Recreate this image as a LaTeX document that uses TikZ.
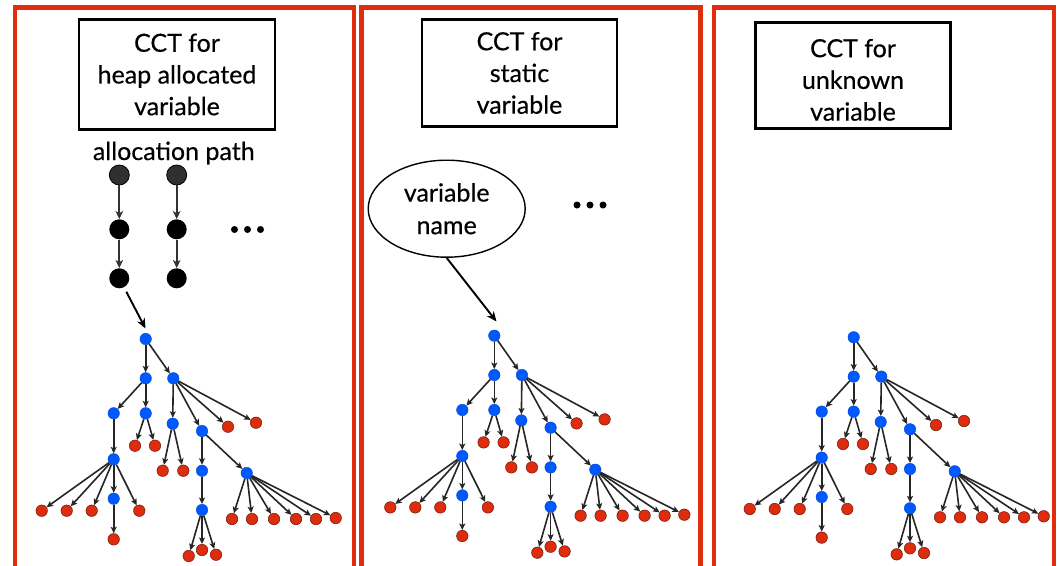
\documentclass[tikz,border=0pt]{standalone}
\usepackage{fontspec}
\setmainfont{Lato}[FakeBold=0.4]
\usetikzlibrary{arrows.meta,shapes.geometric}
\definecolor{panelred}{RGB}{226,44,14}
\definecolor{nblue}{RGB}{0,88,255}
\definecolor{nred}{RGB}{222,44,14}
\definecolor{pgrey}{RGB}{48,48,48}
\tikzset{
  panel/.style={draw=panelred,line width=4.5pt},
  titlebox/.style={draw=black,line width=2.2pt,inner sep=0pt,align=center,
    font=\fontsize{25}{31.7}\selectfont},
  txt/.style={inner sep=0pt,font=\fontsize{25}{31.7}\selectfont},
  bn/.style={circle,fill=nblue,draw=nblue!80!black,line width=0.4pt,minimum size=11.5pt,inner sep=0pt},
  rn/.style={circle,fill=nred,draw=nred!50!black,line width=0.5pt,minimum size=11.5pt,inner sep=0pt},
  pn/.style={circle,fill=black,minimum size=20pt,inner sep=0pt},
  pnt/.style={circle,fill=pgrey,draw=black,line width=0.8pt,minimum size=20pt,inner sep=0pt},
  dotn/.style={circle,fill=black,minimum size=7pt,inner sep=0pt},
  ar/.style={draw=black!85,line width=1.6pt,-{Stealth[length=6.5pt,width=6pt,inset=1.5pt]}},
  par/.style={draw=black!80,line width=2pt,-{Stealth[length=8pt,width=7.5pt,inset=2pt]}},
  big/.style={draw=black,line width=1.9pt,-{Stealth[length=10pt,width=8.5pt]}}
}
\newcommand{\cctree}[3]{%
\begin{scope}[shift={(#2,#3)}]
  \node[bn] (#1r)   at (145.7,339) {};
  \node[bn] (#1a)   at (145.7,378.3) {};
  \node[bn] (#1b)   at (173.3,378.3) {};
  \node[bn] (#1a1)  at (113.7,413.3) {};
  \node[bn] (#1a2)  at (145.7,413.3) {};
  \node[rn] (#1a2x) at (135,445.7) {};
  \node[rn] (#1a2y) at (155,445.7) {};
  \node[bn] (#1a1a) at (113.7,459.3) {};
  \node[rn] (#1l1)  at (41.7,510.7) {};
  \node[rn] (#1l2)  at (66.7,510.7) {};
  \node[rn] (#1l3)  at (91.7,510.7) {};
  \node[bn] (#1l4)  at (113.7,498.7) {};
  \node[rn] (#1l5)  at (139.3,510.7) {};
  \node[rn] (#1l4a) at (113.7,539.3) {};
  \node[bn] (#1b1)  at (172.7,423.7) {};
  \node[bn] (#1b2)  at (202,431) {};
  \node[rn] (#1b3)  at (228,426.7) {};
  \node[rn] (#1b4)  at (256,422.7) {};
  \node[rn] (#1b1x) at (162.7,470.7) {};
  \node[rn] (#1b1y) at (183.3,470.7) {};
  \node[bn] (#1c1)  at (202,470.7) {};
  \node[bn] (#1c2)  at (246.7,473) {};
  \node[bn] (#1c1a) at (202,510) {};
  \node[rn] (#1d1)  at (188.7,556) {};
  \node[rn] (#1d2)  at (202,550) {};
  \node[rn] (#1d3)  at (216,554.7) {};
  \node[rn] (#1e1)  at (232,519) {};
  \node[rn] (#1e2)  at (252,519) {};
  \node[rn] (#1e3)  at (274,519) {};
  \node[rn] (#1e4)  at (296,519) {};
  \node[rn] (#1e5)  at (316,519) {};
  \node[rn] (#1e6)  at (335.7,518) {};
  \foreach \s/\t in {r/a,r/b,a/a1,a/a2,a2/a2x,a2/a2y,a1/a1a,a1a/l1,a1a/l2,a1a/l3,a1a/l4,a1a/l5,l4/l4a,
     b/b1,b/b2,b/b3,b/b4,b1/b1x,b1/b1y,b2/c1,b2/c2,c1/c1a,c1a/d1,c1a/d2,c1a/d3,
     c2/e1,c2/e2,c2/e3,c2/e4,c2/e5,c2/e6}
     \draw[ar] (#1\s) -- (#1\t);
\end{scope}}
\begin{document}
\begin{tikzpicture}[x=1pt,y=-1pt]
\useasboundingbox (0,0) rectangle (1057,565);
\clip (0,0) rectangle (1057,565);
\fill[white] (0,0) rectangle (1057,565);
% panels
\draw[panel] (15,7.5) rectangle (354,600);
\draw[panel] (361.7,7.5) rectangle (700.3,600);
\draw[panel] (714,7.5) rectangle (1053.8,600);
% title boxes
\node[titlebox,minimum width=196pt,minimum height=110pt] (box1) at (177,74.5) {CCT for\\heap allocated\\variable};
\node[titlebox,minimum width=195pt,minimum height=107pt] (box2) at (519.5,73) {CCT for\\static\\variable};
\node[titlebox,minimum width=195pt,minimum height=106pt] (box3) at (853,75.5) {\rule{0pt}{27pt}CCT for\\unknown\\variable};
% allocation paths
\node[txt,anchor=base] (alloc) at (173.8,160) {allocation path};
\node[pnt] (p11) at (119.3,175) {};
\node[pn]  (p12) at (119.3,229.3) {};
\node[pn]  (p13) at (119.3,278.3) {};
\node[pnt] (p21) at (176.7,175) {};
\node[pn]  (p22) at (176.7,229.3) {};
\node[pn]  (p23) at (176.7,278.3) {};
\draw[par] (p11) -- (p12);
\draw[par] (p12) -- (p13);
\draw[par] (p21) -- (p22);
\draw[par] (p22) -- (p23);
\node[dotn] (da1) at (234.5,229.5) {};
\node[dotn] (da2) at (247.5,229.5) {};
\node[dotn] (da3) at (260.5,229.5) {};
% static variable
\node[ellipse,draw,line width=1.4pt,minimum width=157pt,minimum height=97pt,inner sep=0pt,align=center,
  font=\fontsize{25}{32.6}\selectfont] (vn) at (446.7,208.7) {variable\\name};
\node[dotn] (db1) at (577,205) {};
\node[dotn] (db2) at (590,205) {};
\node[dotn] (db3) at (603,205) {};
% trees
\cctree{ta}{0}{0}
\cctree{tb}{348.6}{-3.3}
\cctree{tc}{708}{-1.7}
\coordinate (tain) at (145.5,328.5);
\coordinate (tbin) at (496.5,321.5);
\draw[big,shorten <=5pt] (p13) -- (tain);
\draw[big] (vn.south) -- (tbin);
\end{tikzpicture}
\end{document}
